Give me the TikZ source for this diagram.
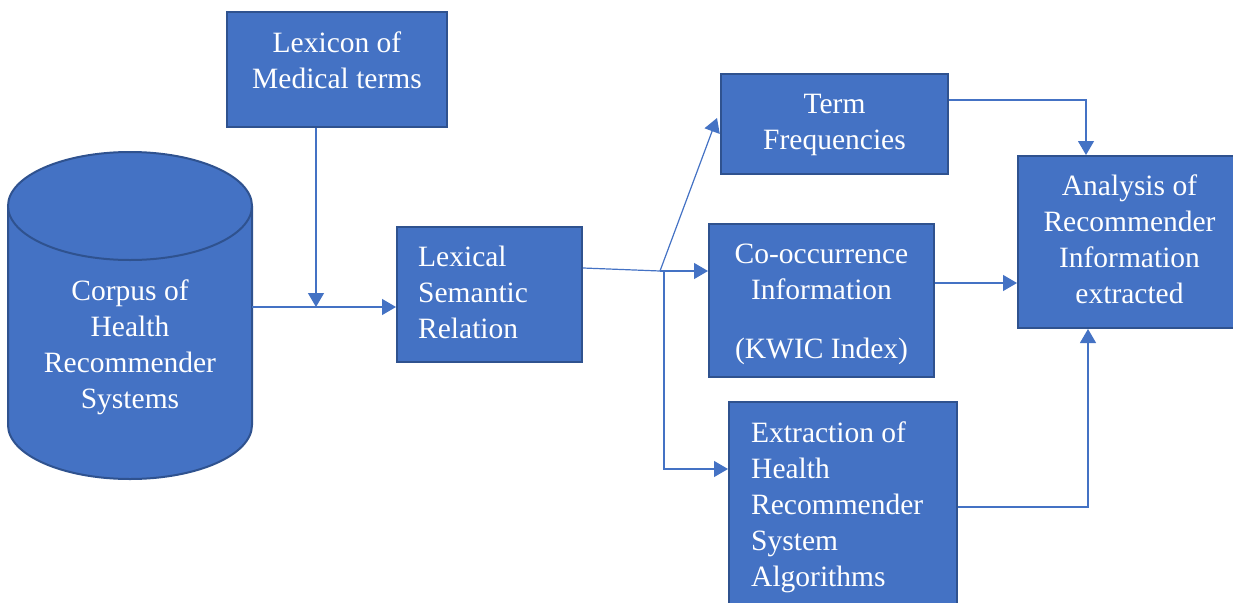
\documentclass[tikz,border=0pt]{standalone}
\usepackage{fontspec}
\setmainfont{Liberation Serif}
\usetikzlibrary{arrows.meta}
\definecolor{boxfill}{HTML}{4472C4}
\definecolor{boxline}{HTML}{2F528F}
\definecolor{conn}{HTML}{4472C4}
\begin{document}
\begin{tikzpicture}[x=1pt,y=-1pt,
  boxnode/.style={draw=boxline,fill=boxfill,line width=2pt,inner sep=0pt},
  txt/.style={text=white,inner sep=0pt,anchor=north,font=\fontsize{29.5}{36}\selectfont},
  arr/.style={draw=conn,line width=1.2pt,-{Triangle[length=14pt,width=16pt]}},
  ln/.style={draw=conn,line width=1.2pt}]
\useasboundingbox (0,0) rectangle (1233,602);
\clip (0,0) rectangle (1233,602);
% cylinder
\fill[boxfill] (8,206) rectangle (252,425);
\fill[boxfill] (130,425) ellipse[x radius=122pt,y radius=54pt];
\draw[boxline,line width=2pt] (8,206) -- (8,425) arc[start angle=180,end angle=360,x radius=122pt,y radius=54pt] -- (252,206);
\draw[boxline,line width=2pt,fill=boxfill] (130,206) ellipse[x radius=122pt,y radius=54pt];
\node[txt,align=center] (corpus) at (130,274.8) {\strut Corpus of\\Health\\Recommender\\Systems};
\coordinate (corpusR) at (252,307);
% boxes
\node[boxnode,minimum width=220pt,minimum height=115pt] (lex) at (337,69.5) {};
\node[txt,align=center] (lexT) at (337,26.8) {\strut Lexicon of\\Medical terms};
\node[boxnode,minimum width=185pt,minimum height=135pt] (lsr) at (489.5,294.5) {};
\node[txt,align=left,anchor=north west] (lsrT) at (418,240.8) {\strut Lexical\\Semantic\\Relation};
\node[boxnode,minimum width=227pt,minimum height=100pt] (term) at (834.5,124) {};
\node[txt,align=center] (termT) at (834.5,87.8) {\strut Term\\Frequencies};
\node[boxnode,minimum width=225pt,minimum height=153pt] (cooc) at (821.5,300.5) {};
\node[txt,align=center] (coocT) at (821.5,237.8) {\strut Co-occurrence\\Information\\[23pt](KWIC Index)};
\node[boxnode,minimum width=228pt,minimum height=218pt] (extr) at (843,511) {};
\node[txt,align=left,anchor=north west] (extrT) at (751,416.8) {\strut Extraction of\\Health\\Recommender\\System\\Algorithms};
\node[boxnode,minimum width=227pt,minimum height=172pt] (anal) at (1131.5,242) {};
\node[txt,align=center] (analT) at (1129.5,169.8) {\strut Analysis of\\Recommender\\Information\\extracted};
% connectors
\coordinate (j1) at (316,307);
\draw[arr] (corpusR) -- (corpusR -| lsr.west);
\draw[arr] (lex.south -| j1) -- (j1);
\coordinate (b) at (660,271);
\coordinate (b1) at (664,271);
\coordinate (b2) at (664,469);
\draw[ln] (lsr.east |- 0,268) -- (b);
\draw[arr] (b) -- (b -| cooc.west);
\draw[arr] (b) -- ([xshift=-3pt]term.west |- 0,118);
\draw[arr] (b1) -- (b2) -- (b2 -| extr.west);
\draw[arr] (term.east |- 0,100) -| (anal.north -| 1086,0);
\draw[arr] (cooc.east |- 0,283) -- (anal.west |- 0,283);
\draw[arr] (extr.east |- 0,507) -| (anal.south -| 1088,0);
\end{tikzpicture}
\end{document}
